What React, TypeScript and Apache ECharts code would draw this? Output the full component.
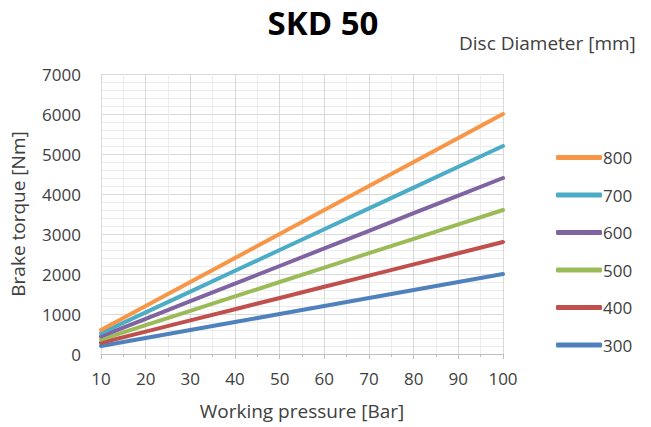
import React, { useEffect, useRef } from "react";
import * as echarts from "echarts";

const pressures = [10, 20, 30, 40, 50, 60, 70, 80, 90, 100];
const diameters = ["800", "700", "600", "500", "400", "300"];
const torque800 = [600, 1200, 1800, 2400, 3000, 3600, 4200, 4800, 5400, 6000];
const torque700 = [520, 1040, 1560, 2080, 2600, 3120, 3640, 4160, 4680, 5200];
const torque600 = [440, 880, 1320, 1760, 2200, 2640, 3080, 3520, 3960, 4400];
const torque500 = [360, 720, 1080, 1440, 1800, 2160, 2520, 2880, 3240, 3600];
const torque400 = [280, 560, 840, 1120, 1400, 1680, 1960, 2240, 2520, 2800];
const torque300 = [200, 400, 600, 800, 1000, 1200, 1400, 1600, 1800, 2000];
const colors = ["#F79646", "#4BACC6", "#8064A2", "#9BBB59", "#C0504D", "#4F81BD"];

const FONT = "'Open Sans', 'Noto Sans', sans-serif";

export default function App() {
  const ref = useRef<HTMLDivElement>(null);
  useEffect(() => {
    if (!ref.current) return;
    const chart = echarts.init(ref.current, null, { renderer: "svg" });
    const all = [torque800, torque700, torque600, torque500, torque400, torque300];
    chart.setOption({
      animation: false,
      textStyle: { fontFamily: FONT },
      title: {
        text: "SKD 50",
        left: 318,
        textAlign: "center",
        top: 1,
        textStyle: { fontSize: 33, fontWeight: "bold", color: "#000", fontFamily: FONT },
      },
      graphic: [
        {
          type: "text",
          left: 459,
          top: 33,
          style: { text: "Disc Diameter [mm]", fontSize: 19, fill: "#404040", fontFamily: FONT },
        },
      ],
      legend: {
        orient: "vertical",
        left: 551,
        top: 144,
        itemWidth: 46,
        itemHeight: 5,
        itemGap: 20.5,
        icon: "roundRect",
        data: diameters,
        textStyle: { fontSize: 17, color: "#404040", padding: [0, 0, 0, -4] },
      },
      grid: { left: 100, right: 148, top: 74, bottom: 73, containLabel: false },
      xAxis: {
        type: "value",
        min: 10,
        max: 100,
        interval: 10,
        name: "Working pressure [Bar]",
        nameLocation: "middle",
        nameGap: 47,
        nameTextStyle: { fontSize: 19, color: "#404040" },
        axisLine: { show: true, lineStyle: { color: "#bfbfbf", width: 1 } },
        axisTick: { show: true, length: 5, lineStyle: { color: "#bfbfbf" } },
        axisLabel: { fontSize: 17, color: "#404040", margin: 16 },
        splitLine: { show: true, lineStyle: { color: "#d9d9d9", width: 1 } },
        minorTick: { show: true, splitNumber: 2, length: 3, lineStyle: { color: "#bfbfbf" } },
        minorSplitLine: { show: true, lineStyle: { color: "#ececec", width: 1 } },
      },
      yAxis: {
        type: "value",
        min: 0,
        max: 7000,
        interval: 1000,
        name: "Brake torque [Nm]",
        nameLocation: "middle",
        nameGap: 74,
        nameRotate: 90,
        nameTextStyle: { fontSize: 19, color: "#404040" },
        axisLine: { show: false },
        axisTick: { show: false },
        axisLabel: { fontSize: 17, color: "#404040", margin: 20, formatter: (v: number) => String(v) },
        splitLine: { show: true, lineStyle: { color: "#d9d9d9", width: 1 } },
        minorTick: { show: false, splitNumber: 5 },
        minorSplitLine: { show: true, lineStyle: { color: "#ececec", width: 1 } },
      },
      series: diameters.map((d, i) => ({
        name: d,
        type: "line",
        symbol: "none",
        data: pressures.map((p, j) => [p, all[i][j]]),
        lineStyle: { width: 4, color: colors[i], cap: "round" },
        itemStyle: { color: colors[i] },
        z: 10 - i,
      })),
    });
    return () => chart.dispose();
  }, []);
  return (
    <div
      ref={ref}
      style={{ position: "absolute", left: 0, top: 0, width: 651, height: 427 }}
    />
  );
}
